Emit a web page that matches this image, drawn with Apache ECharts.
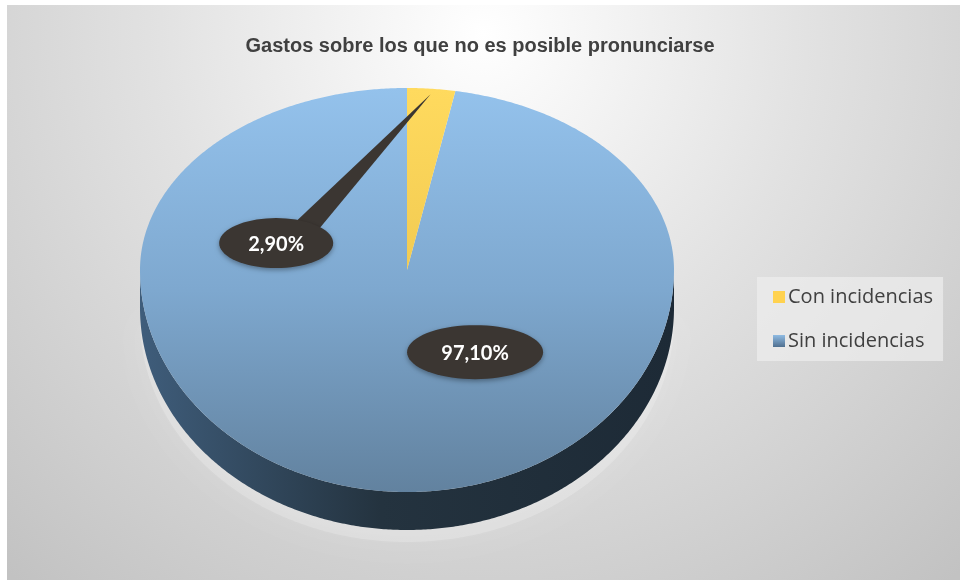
<!DOCTYPE html>
<html>
<head>
<meta charset="utf-8">
<script src="https://cdn.jsdelivr.net/npm/echarts@6/dist/echarts.min.js"></script>
<style>
html,body{margin:0;padding:0;background:#fff;}
#chart{width:960px;height:580px;}
</style>
</head>
<body>
<div id="chart"></div>
<script>
// ---- data ----
const categories = ['Con incidencias', 'Sin incidencias'];
const values = [2.9, 97.1];

// ---- layout / style (not data) ----
const CX = 407, CY = 270, RX = 267, RYB = 182, RYF = 222, DEPTH = 38;
const labelPos = [[-0.49, -0.148], [0.255, 0.37]]; // fractions of RX / RY
const labelSize = [[57, 25], [68, 27]];
const total = values.reduce((a, b) => a + b, 0);
const fmt = v => v.toFixed(2).replace('.', ',') + '%';

function pt(theta, k) {
  const t = theta * Math.PI / 180, c = Math.cos(t);
  const ry = c >= 0 ? RYB : RYF;
  return [CX + RX * k * Math.sin(t), CY - ry * k * c];
}
function arc(a0, a1, k, dy) {
  const pts = [];
  const n = Math.max(2, Math.ceil(Math.abs(a1 - a0) / 0.5));
  for (let i = 0; i <= n; i++) {
    const p = pt(a0 + (a1 - a0) * i / n, k);
    pts.push([p[0], p[1] + (dy || 0)]);
  }
  return pts;
}
function ellipsePts(cx, cy, rx, ry) {
  const pts = [];
  for (let i = 0; i < 72; i++) {
    const t = i / 72 * Math.PI * 2;
    pts.push([cx + rx * Math.cos(t), cy + ry * Math.sin(t)]);
  }
  return pts;
}

const topColors = [
  new echarts.graphic.LinearGradient(0, 0, 0, 1, [{offset: 0, color: '#ffda5e'}, {offset: 1, color: '#f2cb52'}]),
  new echarts.graphic.LinearGradient(0, 0, 0, 1, [{offset: 0, color: '#94c2ec'}, {offset: 0.5, color: '#7ea8cf'}, {offset: 1, color: '#62829f'}])
];
const sideColor = new echarts.graphic.LinearGradient(0, 0, 1, 0, [
  {offset: 0, color: '#3f5d7b'}, {offset: 0.45, color: '#24333f'}, {offset: 1, color: '#1d2a36'}
]);
const legendColors = ['#ffd24f', new echarts.graphic.LinearGradient(0, 0, 0, 1, [{offset: 0, color: '#8fbbe3'}, {offset: 1, color: '#4f6f8f'}])];

function renderSlice(params, api) {
  const idx = params.seriesIndex;
  let start = 0;
  for (let i = 0; i < idx; i++) start += values[i];
  const v = api.value(0);
  const a0 = start / total * 360, a1 = (start + v) / total * 360;
  const children = [];
  // reflection / glow under the pie (drawn once, with the big slice)
  if (idx === values.length - 1) {
    const glow = arc(90, 270, 1.0, DEPTH + 12);
    children.push({
      type: 'polygon', z2: 0, shape: {points: glow},
      style: {fill: 'rgba(255,255,255,0.2)', shadowBlur: 30, shadowColor: 'rgba(255,255,255,0.6)'}
    });
  }
  // side
  const s0 = Math.max(a0, 90), s1 = Math.min(a1, 270);
  if (s1 > s0) {
    const topEdge = arc(s0, s1, 1, 0);
    const botEdge = arc(s1, s0, 1, DEPTH);
    children.push({type: 'polygon', z2: 1, shape: {points: topEdge.concat(botEdge)}, style: {fill: sideColor}});
  }
  // top surface
  const topPts = [[CX, CY]].concat(arc(a0, a1, 1, 0));
  children.push({type: 'polygon', z2: 2, shape: {points: topPts}, style: {fill: topColors[idx]}});
  // callout label
  const lp = labelPos[idx], ls = labelSize[idx];
  const lx = CX + lp[0] * RX, ly = CY + lp[1] * (lp[1] < 0 ? RYB : RYF);
  const calloutFill = '#3b3632';
  if (idx === 0) {
    const tip = pt((a0 + a1) / 2, 0.97);
    children.push({
      type: 'polygon', z2: 5,
      shape: {points: [[lx + 15, ly - ls[1] + 8], tip, [lx + 42, ly - ls[1] + 12]]},
      style: {fill: calloutFill}
    });
  }
  children.push({
    type: 'polygon', z2: 6, shape: {points: ellipsePts(lx, ly, ls[0], ls[1])},
    style: {fill: calloutFill, shadowBlur: 5, shadowOffsetY: 2, shadowColor: 'rgba(0,0,0,0.35)'}
  });
  children.push({
    type: 'text', z2: 7,
    style: {
      text: fmt(v), x: lx, y: ly + 1, fill: '#ffffff',
      font: 'bold 20px Lato', align: 'center', verticalAlign: 'middle',
      textAlign: 'center', textVerticalAlign: 'middle'
    }
  });
  return {type: 'group', children: children};
}

const chart = echarts.init(document.getElementById('chart'), null, {renderer: 'canvas'});
chart.setOption({
  animation: false,
  graphic: [{
    type: 'rect', z: -10, left: 7, top: 5,
    shape: {width: 953, height: 575},
    style: {
      fill: new echarts.graphic.RadialGradient(0.5, 0.05, 1.25, [
        {offset: 0, color: '#ffffff'}, {offset: 0.45, color: '#e2e2e2'}, {offset: 1, color: '#c2c2c2'}
      ])
    }
  }],
  title: {
    text: 'Gastos sobre los que no es posible pronunciarse',
    left: 'center', top: 31,
    textStyle: {fontFamily: 'Liberation Sans', fontWeight: 'bold', fontSize: 20, color: '#404040'}
  },
  legend: {
    data: categories,
    orient: 'vertical', left: 757, top: 277,
    icon: 'rect', itemWidth: 12, itemHeight: 12, itemGap: 24,
    backgroundColor: 'rgba(238,238,238,0.7)',
    padding: [10, 10, 10, 16],
    textStyle: {fontFamily: 'Open Sans', fontSize: 20, color: '#404040', padding: [0, 0, 0, -2]}
  },
  series: categories.map((name, i) => ({
    type: 'custom',
    name: name,
    coordinateSystem: 'none',
    z: i === 0 ? 3 : 2,
    itemStyle: {color: legendColors[i]},
    renderItem: renderSlice,
    data: [[values[i]]]
  }))
});
</script>
</body>
</html>
